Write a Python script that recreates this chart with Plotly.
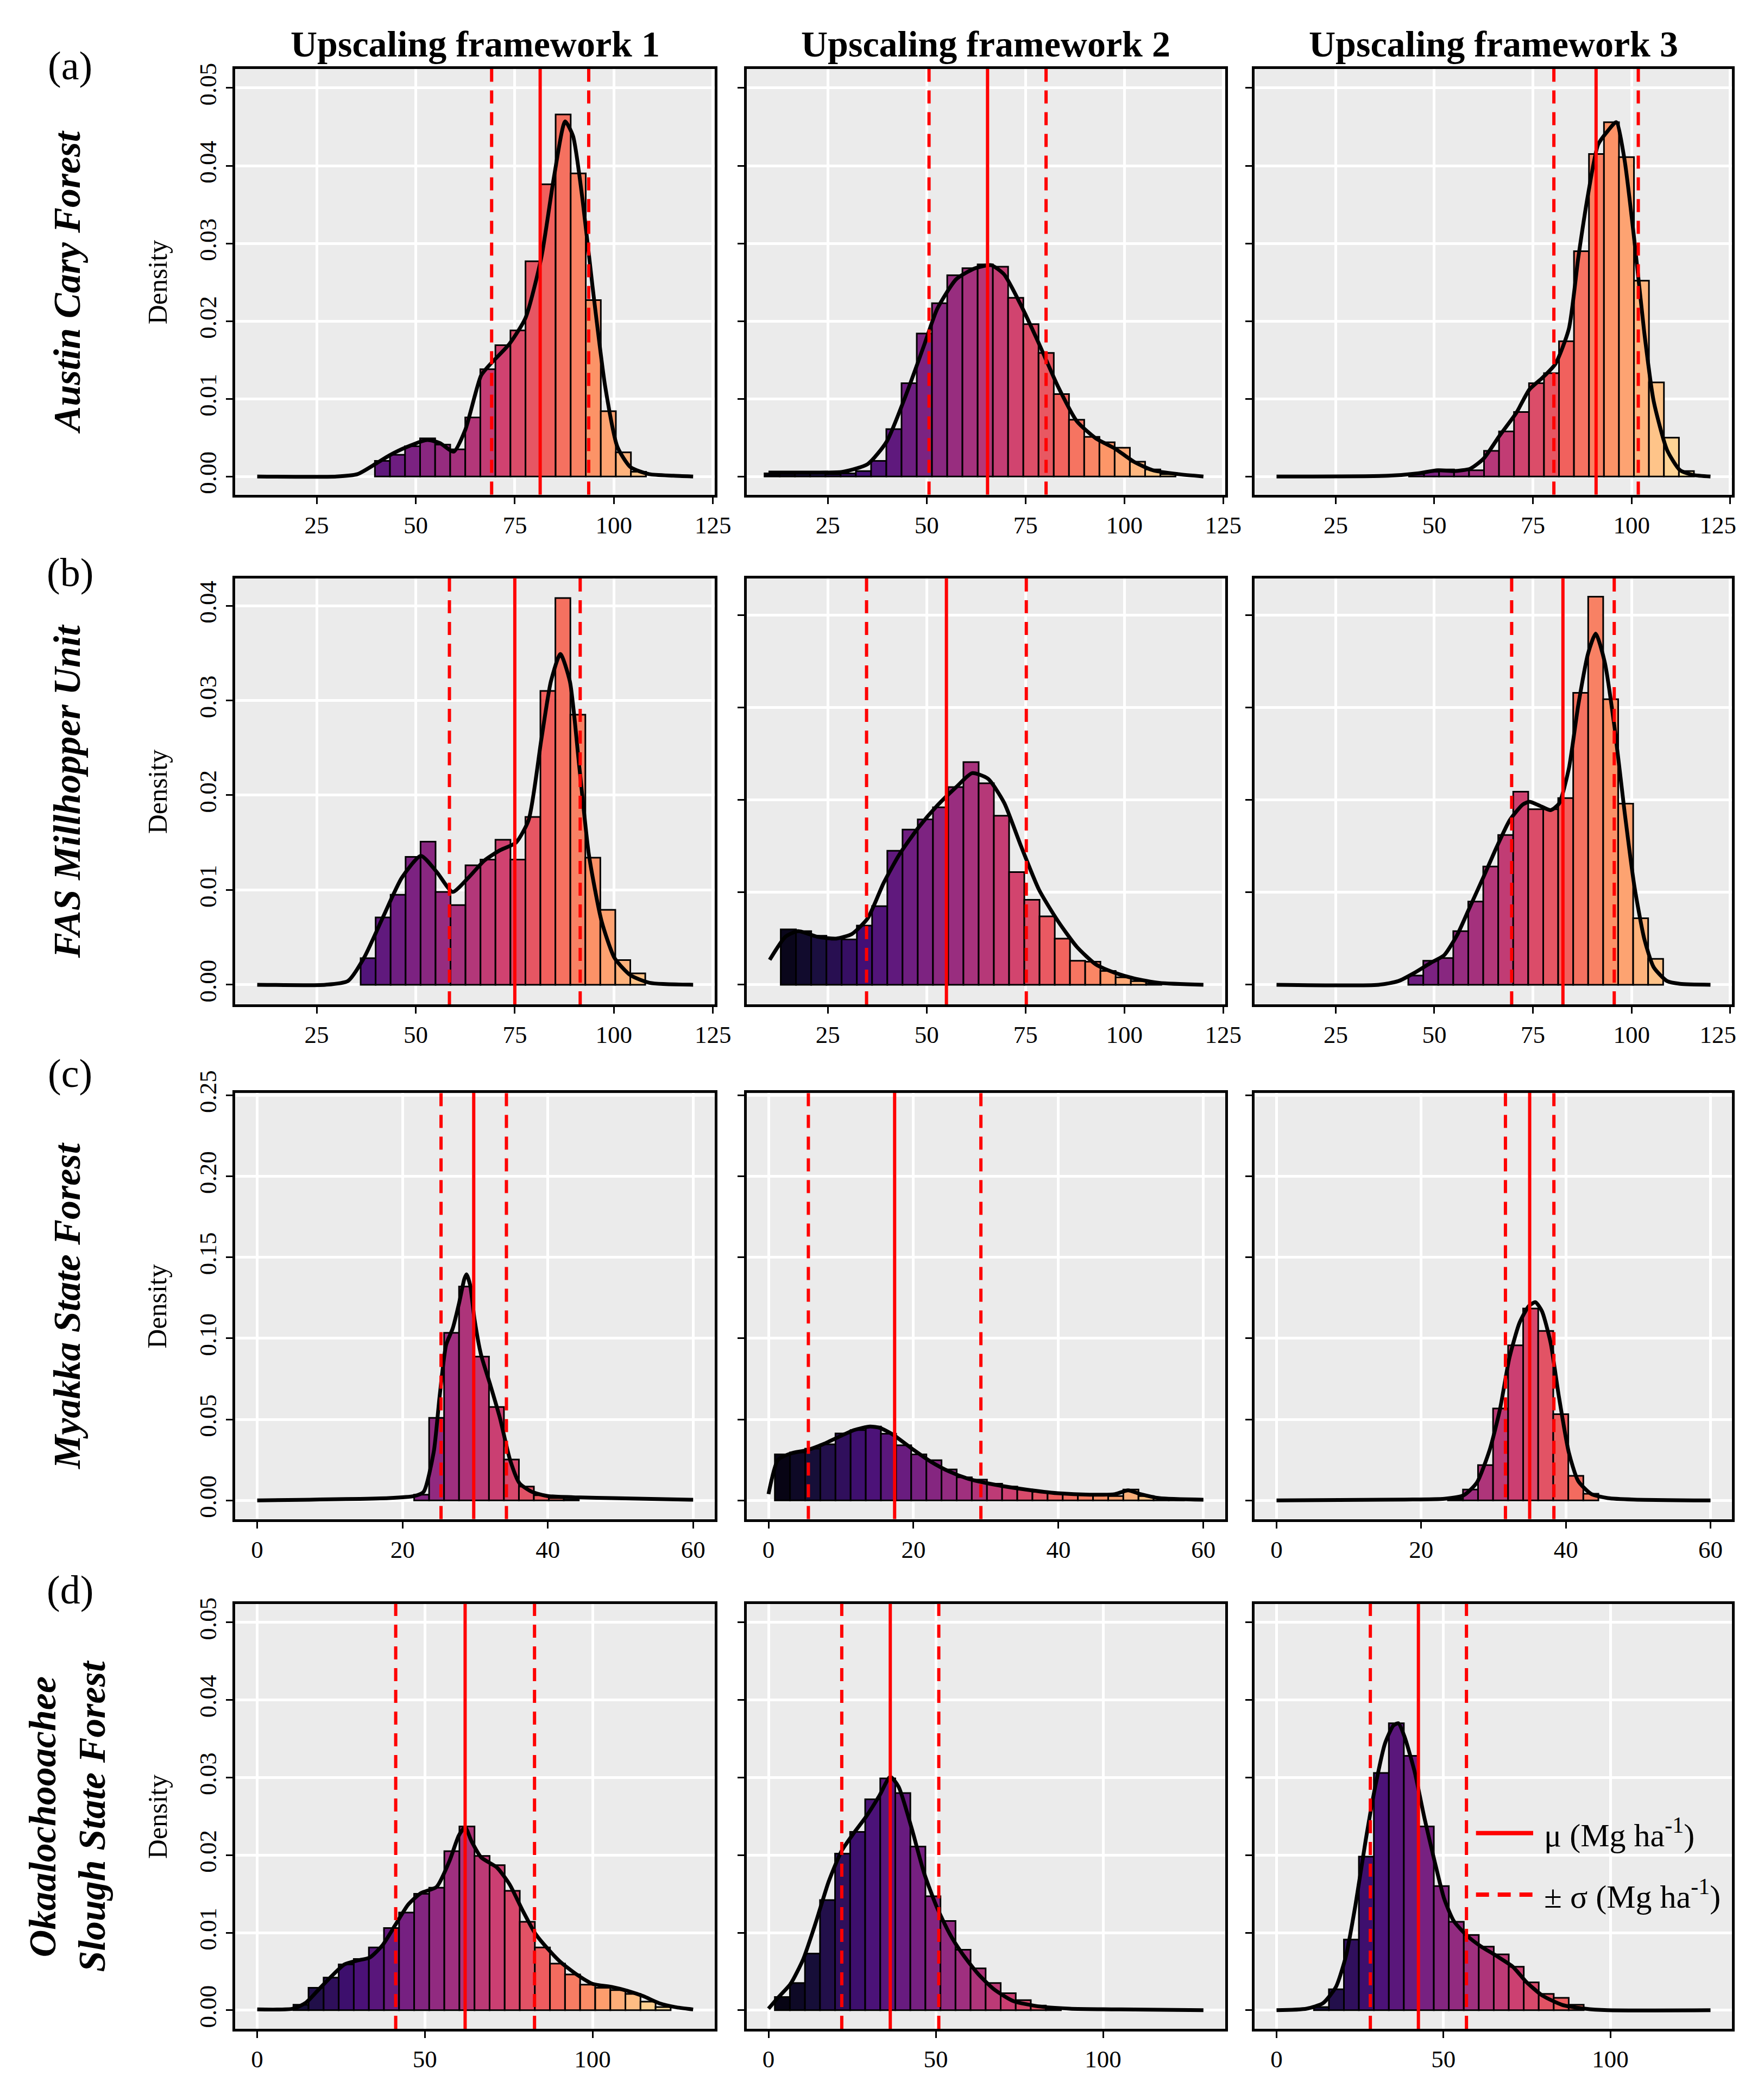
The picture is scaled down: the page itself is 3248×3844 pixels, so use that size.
import plotly.graph_objects as go
from plotly.subplots import make_subplots
from plotly.colors import sample_colorscale

W, H = 3248, 3844
FONT = "Liberation Serif"

col_titles = ["Upscaling framework 1", "Upscaling framework 2", "Upscaling framework 3"]
row_tags = ["(a)", "(b)", "(c)", "(d)"]
row_names = ["Austin Cary Forest", "FAS Millhopper Unit", "Myakka State Forest",
             "Okaalochooachee<br>Slough State Forest"]

# x limits of the fill scale per row (bins coloured by their x)
row_fill_lims = [(10, 120), (10, 120), (0, 60), (0, 130)]
row_xticks = [[25, 50, 75, 100, 125], [25, 50, 75, 100, 125], [0, 20, 40, 60], [0, 50, 100]]
row_xrange = [[4.5, 125.5], [4.5, 125.5], [-3, 63], [-6.5, 136.5]]
row_yticks = [[0, 0.01, 0.02, 0.03, 0.04, 0.05], [0, 0.01, 0.02, 0.03, 0.04],
              [0, 0.05, 0.10, 0.15, 0.20, 0.25], [0, 0.01, 0.02, 0.03, 0.04, 0.05]]
yranges = [
    [[-0.00233, 0.05244], [-0.00233, 0.05244], [-0.00233, 0.05244]],
    [[-0.00207, 0.04289], [-0.00212, 0.04399], [-0.00212, 0.04399]],
    [[-0.0115, 0.2514], [-0.0115, 0.2514], [-0.0115, 0.2514]],
    [[-0.0024, 0.0524], [-0.0024, 0.0524], [-0.0024, 0.0524]],
]

# histogram bins: first bin edge, bin width, densities
bin_start = [[39.7, 9.0, 43.6], [36.1, 13.1, 43.4], [21.6, 0.88, 23.7], [10.8, 1.9, 11.2]]
bin_width = [[3.80, 3.85, 3.80], [3.78, 3.85, 3.80], [2.06, 2.09, 2.08], [4.50, 4.50, 4.49]]

dens_r1c1 = [0.0020, 0.0028, 0.0039, 0.0049, 0.0041, 0.0035, 0.0076, 0.0138, 0.0169, 0.0188,
             0.0277, 0.0376, 0.0466, 0.0390, 0.0227, 0.0084, 0.0031, 0.0006]
dens_r1c2 = [0.0004, 0.0006, 0.0006, 0.0004, 0.0003, 0.0004, 0.0007, 0.0020, 0.0061, 0.0120,
             0.0184, 0.0223, 0.0259, 0.0268, 0.0273, 0.0270, 0.0230, 0.0196, 0.0159, 0.0106,
             0.0073, 0.0051, 0.0044, 0.0037, 0.0019, 0.0009, 0.0003]
dens_r1c3 = [0.0003, 0.0006, 0.0009, 0.0008, 0.0008, 0.0033, 0.0058, 0.0083, 0.0120, 0.0133,
             0.0174, 0.0290, 0.0415, 0.0456, 0.0411, 0.0252, 0.0121, 0.0050, 0.0007]
dens_r2c1 = [0.0028, 0.0071, 0.0095, 0.0135, 0.0151, 0.0098, 0.0084, 0.0126, 0.0132, 0.0153,
             0.0132, 0.0177, 0.0310, 0.0408, 0.0285, 0.0134, 0.0079, 0.0026, 0.0012]
dens_r2c2 = [0.0060, 0.0058, 0.0053, 0.0050, 0.0049, 0.0064, 0.0085, 0.0145, 0.0168, 0.0179,
             0.0192, 0.0214, 0.0241, 0.0218, 0.0183, 0.0122, 0.0092, 0.0074, 0.0050, 0.0026,
             0.0025, 0.0015, 0.0008, 0.0004, 0.0001]
dens_r2c3 = [0.0010, 0.0026, 0.0029, 0.0058, 0.0090, 0.0128, 0.0162, 0.0209, 0.0190, 0.0190,
             0.0202, 0.0316, 0.0420, 0.0309, 0.0196, 0.0072, 0.0028]
dens_r3c1 = [0.0035, 0.0509, 0.1034, 0.1320, 0.0887, 0.0576, 0.0252, 0.0085, 0.0032, 0.0014, 0.0005]
dens_r3c2 = [0.0284, 0.0296, 0.0319, 0.0346, 0.0413, 0.0434, 0.0456, 0.0411, 0.0340, 0.0284,
             0.0248, 0.0191, 0.0142, 0.0128, 0.0103, 0.0085, 0.0067, 0.0053, 0.0048, 0.0039,
             0.0035, 0.0032, 0.0027, 0.0067, 0.0027, 0.0014, 0.0007]
dens_r3c3 = [0.0010, 0.0067, 0.0218, 0.0567, 0.0957, 0.1184, 0.1046, 0.0532, 0.0152, 0.0041]
dens_r4c1 = [0.0007, 0.0029, 0.0042, 0.0059, 0.0066, 0.0081, 0.0106, 0.0126, 0.0150, 0.0158,
             0.0205, 0.0237, 0.0199, 0.0187, 0.0154, 0.0114, 0.0081, 0.0060, 0.0046, 0.0033,
             0.0029, 0.0026, 0.0021, 0.0011, 0.0004]
dens_r4c2 = [0.0017, 0.0035, 0.0073, 0.0142, 0.0202, 0.0230, 0.0272, 0.0299, 0.0280, 0.0211,
             0.0147, 0.0115, 0.0078, 0.0054, 0.0035, 0.0022, 0.0013, 0.0006, 0.0002]
dens_r4c3 = [0.0004, 0.0027, 0.0091, 0.0198, 0.0306, 0.0370, 0.0328, 0.0237, 0.0160, 0.0114,
             0.0097, 0.0082, 0.0072, 0.0056, 0.0036, 0.0021, 0.0016, 0.0007]
densities = [[dens_r1c1, dens_r1c2, dens_r1c3], [dens_r2c1, dens_r2c2, dens_r2c3],
             [dens_r3c1, dens_r3c2, dens_r3c3], [dens_r4c1, dens_r4c2, dens_r4c3]]

# kernel density curves
kde_x_r1c1 = [10, 30, 35.3, 40.1, 43.3, 47.3, 52.9, 56.1, 59.6, 62.5, 66.5, 68.9, 73.7, 77.7, 81.7,
              84.9, 87.7, 89.7, 92.1, 94.6, 97.8, 100.9, 104.2, 108.9, 115, 120]
kde_y_r1c1 = [0, 0, 0.0003, 0.0017, 0.0027, 0.0037, 0.0047, 0.0043, 0.0032, 0.0060, 0.0130, 0.0145,
              0.0171, 0.0204, 0.0282, 0.0386, 0.0457, 0.0438, 0.0356, 0.0245, 0.0116, 0.0038,
              0.0012, 0.0003, 0.0001, 0]
kde_x_r1c2 = [10, 20, 28.7, 35.1, 39.9, 44.7, 49.5, 52.7, 57.5, 62.3, 66.3, 69.6, 73.6, 78.4, 83.2,
              88, 92.8, 97.6, 102.4, 107.2, 113.6, 120]
kde_y_r1c2 = [0.0005, 0.0005, 0.0006, 0.0016, 0.0045, 0.0104, 0.0171, 0.0216, 0.0254, 0.0268,
              0.0272, 0.0260, 0.0223, 0.0171, 0.0116, 0.0071, 0.0049, 0.0036, 0.0019, 0.0008,
              0.0003, 0]
kde_x_r1c3 = [10, 38.4, 45.8, 50.8, 55, 59.1, 62.5, 66.6, 70.8, 74.1, 77.4, 80.7, 84.1, 86.5, 89,
              91.5, 94, 96.1, 98.2, 100.7, 103.2, 105.6, 109, 112.3, 115.6, 120]
kde_y_r1c3 = [0, 0.0001, 0.0004, 0.0008, 0.0007, 0.0010, 0.0023, 0.0053, 0.0082, 0.0112, 0.0127,
              0.0145, 0.0190, 0.0282, 0.0364, 0.0427, 0.0445, 0.0456, 0.0408, 0.0304, 0.0186,
              0.0097, 0.0034, 0.0008, 0.0002, 0]
kde_x_r2c1 = [10, 27.2, 32.9, 36.9, 41.7, 46.5, 51.3, 55.3, 59.3, 63.3, 67.3, 71.3, 75.3, 78.5,
              81.7, 84.1, 86.5, 88.9, 91.3, 93.7, 96.9, 100.2, 104.2, 109, 120]
kde_y_r2c1 = [0, 0, 0.0004, 0.0028, 0.0071, 0.0113, 0.0136, 0.0119, 0.0098, 0.0113, 0.0131,
              0.0142, 0.0150, 0.0174, 0.0259, 0.0320, 0.0349, 0.0320, 0.0229, 0.0137, 0.0067,
              0.0028, 0.0010, 0.0002, 0]
kde_x_r2c2 = [10.3, 14.3, 17.5, 22.3, 27.1, 31.1, 35.1, 39.1, 43.1, 47.9, 52.7, 57.5, 61.5, 65.5,
              69.6, 73.6, 78.4, 83.2, 88, 92.8, 97.6, 102.4, 108.8, 120]
kde_y_r2c2 = [0.0027, 0.0052, 0.0058, 0.0052, 0.0050, 0.0055, 0.0072, 0.0110, 0.0141, 0.0170,
              0.0194, 0.0214, 0.0229, 0.0223, 0.0197, 0.0153, 0.0103, 0.0069, 0.0041, 0.0022,
              0.0013, 0.0007, 0.0002, 0]
kde_x_r2c3 = [10, 35.9, 40.9, 45, 49.2, 52.5, 55.8, 59.1, 62.5, 65.8, 69.1, 72.4, 74.1, 76.6, 79.5,
              81.6, 84.1, 86.5, 89, 90.9, 93.2, 95.7, 98.2, 100.7, 103.2, 105.6, 109, 112.3, 120]
kde_y_r2c3 = [0, 0, 0.0004, 0.0013, 0.0024, 0.0032, 0.0054, 0.0085, 0.0117, 0.0149, 0.0178,
              0.0195, 0.0198, 0.0194, 0.0189, 0.0196, 0.0234, 0.0303, 0.0359, 0.0380, 0.0349,
              0.0278, 0.0188, 0.0107, 0.0050, 0.0019, 0.0004, 0.0001, 0]
kde_x_r3c1 = [0, 18.1, 21.6, 22.9, 24.3, 25.1, 26, 26.9, 27.8, 28.5, 28.8, 29.3, 29.9, 30.8, 32.1,
              33.4, 34.8, 36.1, 37.8, 40, 44.4, 48.8, 60]
kde_y_r3c1 = [0, 0.0014, 0.0027, 0.0053, 0.030, 0.064, 0.096, 0.106, 0.122, 0.1365, 0.1395,
              0.133, 0.112, 0.090, 0.071, 0.051, 0.025, 0.0106, 0.0053, 0.0027, 0.0018, 0.0014,
              0.0004]
kde_x_r3c2 = [0, 1.3, 3.1, 5.3, 7.5, 9.6, 11.8, 14, 15.4, 17.1, 19.8, 22.4, 25, 27.6, 31.1, 35.5,
              39.9, 44.3, 47.8, 49.6, 51.3, 53.9, 60]
kde_y_r3c2 = [0.0039, 0.025, 0.029, 0.031, 0.0346, 0.039, 0.0434, 0.0456, 0.0447, 0.0408, 0.0319,
              0.0239, 0.0177, 0.0133, 0.0098, 0.0067, 0.0044, 0.0035, 0.0039, 0.0062, 0.0039,
              0.0014, 0.0004]
kde_x_r3c3 = [0, 17.7, 23.2, 25.9, 27.7, 29.5, 30.9, 32.2, 33.6, 34.9, 35.8, 36.7, 37.9, 39, 40.4,
              41.7, 43.5, 45.8, 49.4, 60]
kde_y_r3c3 = [0, 0.0005, 0.0010, 0.0032, 0.011, 0.0316, 0.0564, 0.088, 0.1096, 0.120, 0.1223,
              0.1167, 0.0972, 0.0652, 0.0298, 0.012, 0.004, 0.0014, 0.0005, 0]
kde_x_r4c1 = [0, 10.8, 14.6, 18.4, 22.2, 26, 29.8, 33.6, 37.4, 41.2, 45, 48.8, 53.5, 57.3, 60.1, 62,
              63.9, 66.8, 71.5, 75.3, 79.1, 82.9, 86.7, 90.5, 95.3, 100, 105.7, 110.4, 115.2,
              119.9, 124.7, 130]
kde_y_r4c1 = [0.0001, 0.0002, 0.0010, 0.0027, 0.0044, 0.0059, 0.0064, 0.0068, 0.0084, 0.0110,
              0.0136, 0.0151, 0.0159, 0.0192, 0.0225, 0.0236, 0.0218, 0.0197, 0.0184, 0.0162,
              0.0129, 0.0099, 0.0079, 0.0062, 0.0046, 0.0034, 0.0030, 0.0025, 0.0018, 0.0009,
              0.0004, 0.0001]
kde_x_r4c2 = [0, 2.8, 6.6, 10.4, 14.2, 18, 21.8, 25.6, 29.4, 33.2, 36.4, 38.9, 42.7, 46.5, 50.3,
              54.1, 57.9, 62.6, 67.4, 73.1, 80.6, 90.1, 105.3, 130]
kde_y_r4c2 = [0.0002, 0.0016, 0.0034, 0.0066, 0.0114, 0.0166, 0.0205, 0.0229, 0.0251, 0.0277,
              0.0301, 0.0288, 0.0236, 0.0177, 0.0133, 0.0099, 0.0073, 0.0047, 0.0027, 0.0012,
              0.0005, 0.0002, 0.0001, 0]
kde_x_r4c3 = [0, 9, 13.9, 17.8, 20.8, 23.7, 26.7, 29.6, 32.5, 35, 36.5, 38.4, 41.4, 44.3, 47.3,
              50.2, 53.1, 57.1, 61, 65.9, 70.8, 74.7, 79.6, 85.5, 92.4, 99.2, 130]
kde_y_r4c3 = [0, 0.0002, 0.0009, 0.0030, 0.0070, 0.0137, 0.0219, 0.0289, 0.0344, 0.0367, 0.0370,
              0.0352, 0.0307, 0.0248, 0.0193, 0.0144, 0.0115, 0.0096, 0.0083, 0.0070, 0.0056,
              0.0037, 0.0019, 0.0007, 0.0002, 0, 0]
kde_x = [[kde_x_r1c1, kde_x_r1c2, kde_x_r1c3], [kde_x_r2c1, kde_x_r2c2, kde_x_r2c3],
         [kde_x_r3c1, kde_x_r3c2, kde_x_r3c3], [kde_x_r4c1, kde_x_r4c2, kde_x_r4c3]]
kde_y = [[kde_y_r1c1, kde_y_r1c2, kde_y_r1c3], [kde_y_r2c1, kde_y_r2c2, kde_y_r2c3],
         [kde_y_r3c1, kde_y_r3c2, kde_y_r3c3], [kde_y_r4c1, kde_y_r4c2, kde_y_r4c3]]

# mean and standard deviation (Mg ha-1)
mu = [[81.4, 65.4, 91.0], [75.0, 55.0, 82.6], [29.8, 17.4, 35.0], [62.0, 36.4, 42.5]]
sd = [[12.25, 14.8, 10.7], [16.5, 20.2, 13.0], [4.5, 11.9, 3.35], [20.7, 14.5, 14.4]]

# panel boxes, measured in reference-page pixels
col_px = [(432, 1321), (1380, 2267), (2322, 3207)]
row_px = [(124, 907), (1061, 1845), (2008, 2792), (2948, 3730)]

DASH = "24px,16px"
NBSP = "\u00a0"


# reference-page pixels -> paper fractions (small correction for how the page is captured)
def px_x(v):
    return (1.0096 * v - 3.6) / W


def px_y(v):
    return 1 - (1.0116 * v - 47.5) / H


fig = make_subplots(rows=4, cols=3)

for r in range(4):
    lo, hi = row_fill_lims[r]
    for c in range(3):
        dens = densities[r][c]
        w = bin_width[r][c]
        centers = [bin_start[r][c] + (i + 0.5) * w for i in range(len(dens))]
        fracs = [min(max((x - lo) / (hi - lo), 0), 1) for x in centers]
        colors = sample_colorscale("Magma", fracs)
        fig.add_trace(go.Bar(x=centers, y=dens, width=w,
                             marker=dict(color=colors, line=dict(color="black", width=3))),
                      row=r + 1, col=c + 1)
        fig.add_trace(go.Scatter(x=kde_x[r][c], y=kde_y[r][c], mode="lines",
                                 line=dict(color="black", width=7, shape="spline", smoothing=0.6)),
                      row=r + 1, col=c + 1)
        m, s = mu[r][c], sd[r][c]
        fig.add_vline(x=m, line=dict(color="red", width=6), row=r + 1, col=c + 1)
        for v in (m - s, m + s):
            fig.add_vline(x=v, line=dict(color="red", width=6, dash=DASH),
                          row=r + 1, col=c + 1)

        x0, x1 = col_px[c]
        y0, y1 = row_px[r]
        axis_common = dict(showline=True, linecolor="black", linewidth=5, mirror=True,
                           ticks="outside", ticklen=12, tickwidth=3, tickcolor="black",
                           showgrid=True, gridcolor="white", gridwidth=5, zeroline=False,
                           tickfont=dict(family=FONT, size=45, color="black"))
        xlabels = [str(v) for v in row_xticks[r]]
        if c == 2 and row_xticks[r][-1] == 125:
            # keep the last label inside the page edge
            xlabels[-1] = "125" + NBSP * 4
        fig.update_xaxes(domain=[px_x(x0), px_x(x1)], range=row_xrange[r],
                         tickvals=row_xticks[r], ticktext=xlabels, ticklabeloverflow="allow",
                         **axis_common, row=r + 1, col=c + 1)
        fig.update_yaxes(domain=[px_y(y1), px_y(y0)], range=yranges[r][c],
                         tickvals=row_yticks[r], tickformat=".2f", tickangle=-90,
                         showticklabels=(c == 0), **axis_common, row=r + 1, col=c + 1)

annotations = []
for c, t in enumerate(col_titles):
    annotations.append(dict(x=px_x(sum(col_px[c]) / 2), y=1 - 31 / H, text=f"<b>{t}</b>",
                            font=dict(family=FONT, size=68, color="black")))
tag_y = [118, 1050, 1972, 2922]
for r in range(4):
    yc = sum(row_px[r]) / 2
    annotations.append(dict(x=px_x(125), y=px_y(tag_y[r]), text=row_tags[r],
                            font=dict(family=FONT, size=74, color="black")))
    annotations.append(dict(x=px_x(120), y=px_y(yc), text=f"<b><i>{row_names[r]}</i></b>",
                            textangle=-90, font=dict(family=FONT, size=70, color="black")))
    annotations.append(dict(x=px_x(287), y=px_y(yc), text="Density", textangle=-90,
                            font=dict(family=FONT, size=50, color="black")))

# legend drawn inside the last panel
legend_items = [("μ (Mg ha<sup>-1</sup>)", "solid", 3370), ("± σ (Mg ha<sup>-1</sup>)", DASH, 3483)]
shapes = []
for label, dash, ly in legend_items:
    shapes.append(dict(type="line", xref="paper", yref="paper", x0=px_x(2732), x1=px_x(2838),
                       y0=px_y(ly), y1=px_y(ly), line=dict(color="red", width=8, dash=dash)))
    annotations.append(dict(x=px_x(2856), y=px_y(ly), text=label, xanchor="left",
                            font=dict(family=FONT, size=60, color="black")))

for a in annotations:
    a.setdefault("xref", "paper")
    a.setdefault("yref", "paper")
    a.setdefault("xanchor", "center")
    a.setdefault("yanchor", "middle")
    a.setdefault("showarrow", False)

fig.update_layout(width=W, height=H, margin=dict(l=0, r=0, t=0, b=0),
                  paper_bgcolor="white", plot_bgcolor="#EBEBEB", showlegend=False,
                  annotations=list(fig.layout.annotations) + annotations,
                  shapes=list(fig.layout.shapes) + shapes)

fig.write_html("out.html")
